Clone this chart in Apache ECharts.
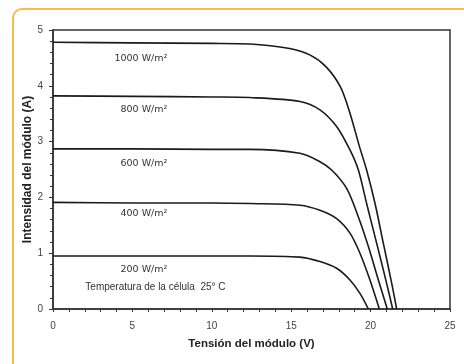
<!DOCTYPE html>
<html>
<head>
<meta charset="utf-8">
<script src="https://cdn.jsdelivr.net/npm/echarts@6/dist/echarts.min.js"></script>
<style>html,body{margin:0;padding:0;background:#fff}#c{width:464px;height:364px}</style>
</head>
<body>
<div id="c"></div>
<script>
// Curve data (voltage V, current A)
const v1000 = [0, 5, 10, 12.4, 14.9, 16.2, 17.2, 18.1, 18.7, 19.3, 19.75, 20.28, 20.8, 21.33, 21.64];
const i1000 = [4.78, 4.77, 4.76, 4.75, 4.67, 4.55, 4.34, 3.98, 3.51, 2.91, 2.49, 1.89, 1.18, 0.46, 0];
const v800 = [0, 5, 10, 12.4, 15.55, 16.81, 17.86, 18.7, 19.23, 19.75, 20.38, 21.01, 21.39];
const i800 = [3.82, 3.81, 3.80, 3.79, 3.72, 3.57, 3.27, 2.85, 2.49, 1.89, 1.18, 0.46, 0];
const v600 = [0, 5, 10, 12.4, 15.55, 16.81, 17.55, 18.49, 19.23, 19.86, 20.49, 21.05];
const i600 = [2.87, 2.87, 2.86, 2.86, 2.79, 2.64, 2.49, 2.16, 1.65, 1.12, 0.52, 0];
const v400 = [0, 5, 10, 12.4, 15.55, 16.81, 17.86, 18.7, 19.33, 19.96, 20.55];
const i400 = [1.91, 1.90, 1.90, 1.89, 1.86, 1.77, 1.62, 1.36, 1.0, 0.52, 0];
const v200 = [0, 5, 10, 12.4, 15.55, 16.81, 17.86, 18.7, 19.33, 19.86];
const i200 = [0.95, 0.95, 0.95, 0.95, 0.93, 0.85, 0.73, 0.52, 0.28, 0];

const seriesNames = ['1000 W/m²', '800 W/m²', '600 W/m²', '400 W/m²', '200 W/m²'];
const labelV = [7.2, 7.2, 7.2, 7.2, 7.2];
const labelI = [4.48, 3.57, 2.60, 1.71, 0.71];
const noteText = 'Temperatura de la célula  25° C';
const noteV = 6.45;
const noteI = 0.39;

const xTitle = 'Tensión del módulo (V)';
const yTitle = 'Intensidad del módulo (A)';

const vs = [v1000, v800, v600, v400, v200];
const is = [i1000, i800, i600, i400, i200];

const series = vs.map((v, k) => ({
  type: 'line',
  name: seriesNames[k],
  data: v.map((x, j) => [x, is[k][j]]),
  smooth: 0.3,
  showSymbol: false,
  lineStyle: { color: '#1a1a1a', width: 1.6 },
  z: 3,
  markPoint: {
    symbol: 'circle', symbolSize: 0,
    data: [{ coord: [labelV[k], labelI[k]] }],
    label: {
      show: true, position: [0, 0], align: 'right', verticalAlign: 'middle',
      formatter: seriesNames[k], color: '#333',
      fontFamily: 'DejaVu Sans', fontSize: 9.5
    }
  }
}));
series.push({
  type: 'scatter', data: [], silent: true,
  markPoint: {
    symbol: 'circle', symbolSize: 0,
    data: [{ coord: [noteV, noteI] }],
    label: {
      show: true, position: [0, 0], align: 'center', verticalAlign: 'middle',
      formatter: noteText, color: '#333',
      fontFamily: 'Liberation Sans', fontSize: 10
    }
  }
});

const chart = echarts.init(document.getElementById('c'), null, { renderer: 'canvas' });
chart.setOption({
  animation: false,
  backgroundColor: '#fff',
  graphic: [{
    type: 'rect', z: -1,
    shape: { x: 13, y: 9, width: 480, height: 380, r: 9 },
    style: { fill: 'none', stroke: '#F8BC4C', lineWidth: 2 }
  }],
  grid: { left: 53, top: 30, right: 14, bottom: 55, show: true, borderColor: '#333', borderWidth: 1.5, backgroundColor: 'transparent' },
  xAxis: {
    type: 'value', min: 0, max: 25, interval: 5,
    name: xTitle, nameLocation: 'middle', nameGap: 29, nameMoveOverlap: false,
    nameTextStyle: { fontFamily: 'Liberation Sans', fontWeight: 'bold', fontSize: 11.5, color: '#222' },
    axisLine: { show: true, lineStyle: { color: '#333', width: 1.5 } },
    axisTick: { show: true, length: 3, lineStyle: { color: '#333' } },
    minorTick: { show: true, splitNumber: 5, length: 3, lineStyle: { color: '#333' } },
    axisLabel: { margin: 12, fontFamily: 'Liberation Sans', fontSize: 10, color: '#444' },
    splitLine: { show: false }
  },
  yAxis: {
    type: 'value', min: 0, max: 5, interval: 1,
    name: yTitle, nameLocation: 'middle', nameGap: 19, nameMoveOverlap: false,
    nameTextStyle: { fontFamily: 'Liberation Sans', fontWeight: 'bold', fontSize: 12, color: '#222' },
    axisLine: { show: true, lineStyle: { color: '#333', width: 1.5 } },
    axisTick: { show: true, length: 4, lineStyle: { color: '#333' } },
    minorTick: { show: true, splitNumber: 5, length: 3, lineStyle: { color: '#333' } },
    axisLabel: { margin: 10, fontFamily: 'Liberation Sans', fontSize: 10, color: '#444' },
    splitLine: { show: false }
  },
  series: series
});
</script>
</body>
</html>
